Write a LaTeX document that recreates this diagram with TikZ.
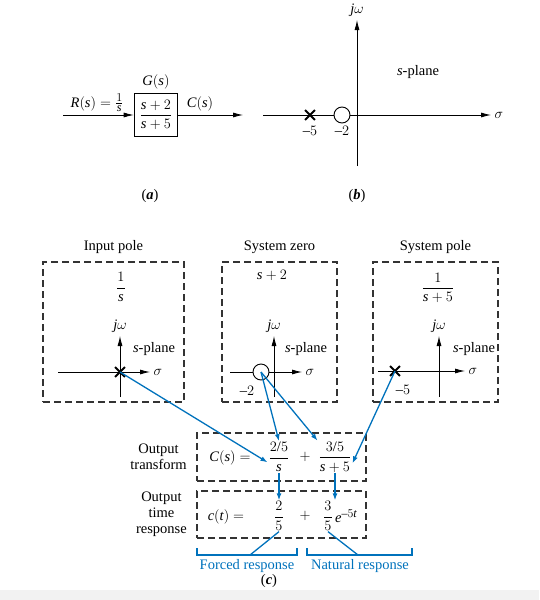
\documentclass[tikz,border=0pt]{standalone}
\usepackage{amsmath}
\usepackage{fontspec}
\setmainfont{Liberation Serif}
\usepackage[italic]{mathastext}
\usetikzlibrary{positioning, shapes.misc, arrows.meta}
\definecolor{blue}{RGB}{0,114,188}
\definecolor{band}{RGB}{242,242,242}
\tikzstyle{block}=[rectangle, draw=black, line width=1.6pt, minimum width=43pt, minimum height=43pt, inner sep=0pt]
\tikzstyle{region}=[rectangle, draw=black!80, line width=1.4pt, dash pattern=on 7pt off 4pt]
\tikzstyle{pole}=[cross out, draw=black, line width=1.8pt, minimum size=8pt, inner sep=0pt]
\tikzstyle{zero}=[circle, draw=black, fill=white, line width=0.9pt, minimum size=16pt, inner sep=0pt]
\tikzstyle{axis}=[-{Latex[length=10pt,width=5pt]}, line width=0.8pt]
\tikzstyle{flow}=[-{Latex[length=7pt,width=5pt]}, blue, line width=1.3pt]
\tikzstyle{brace}=[blue, line width=1.3pt]
\tikzstyle{term}=[inner sep=1pt]

\begin{document}
\begin{tikzpicture}[x=1pt, y=-1pt, font=\fontsize{14.5}{16}\selectfont]
            \useasboundingbox (0,0) rectangle (539,600);
            \fill[band] (0,590) rectangle (539,600);
            %(a) block diagram
            \node[block](G) at (156,115){$\dfrac{s+2}{s+5}$};
            \node[above=0pt of G](Gl){$G(s)$};
            \coordinate (in) at (63,115);
            \coordinate (out) at (243,115);
            \node[anchor=base](R) at (97,107){$R(s)=\frac{1}{s}$};
            \node[anchor=base](C) at (200,107){$C(s)$};
            \draw[axis] (in) to (G);
            \draw[axis] (G) to (out);
            \node(la) at (150,196){(\textbf{\textit{a}})};
            %(b) s-plane
            \coordinate (b-l) at (263,115);
            \coordinate (b-r) at (491,115);
            \coordinate (b-b) at (357,166);
            \coordinate (b-t) at (357,20);
            \draw[axis] (b-l) to (b-r);
            \draw[axis] (b-b) to (b-t);
            \node[above=0pt of b-t](bjw){$j\omega$};
            \node[right=0pt of b-r](bsig){$\sigma$};
            \node[pole](bp) at (310,115){};
            \node[zero](bz) at (342,115){};
            \node(bp5) at (310,131){$-5$};
            \node(bz2) at (342,131){$-2$};
            \node(bpl) at (418,72){$s$-plane};
            \node(lb) at (357,196){(\textbf{\textit{b}})};
            %(c) input pole, system zero, system pole
            \node[region, minimum width=141pt, minimum height=140pt](inbox) at (113.5,332){};
            \node[region, minimum width=115pt, minimum height=140pt](zbox) at (279.5,332){};
            \node[region, minimum width=125pt, minimum height=140pt](pbox) at (435.5,332){};
            \node[above=4pt of inbox]{Input pole};
            \node[above=4pt of zbox]{System zero};
            \node[above=4pt of pbox]{System pole};
            \node(ifn) at (121,287){$\dfrac{1}{s}$};
            \node(zfn) at (272,275){$s+2$};
            \node(pfn) at (438,288){$\dfrac{1}{s+5}$};
            \foreach \b/\l/\r/\v/\h/\sp in {i/58/150/120/372/154, z/230/302/274/372/306, p/378/465/439/371/474}{
                \coordinate (\b-l) at (\l,\h);
                \coordinate (\b-r) at (\r,\h);
                \coordinate (\b-b) at (\v,397);
                \coordinate (\b-t) at (\v,336);
                \draw[axis] (\b-l) to (\b-r);
                \draw[axis] (\b-b) to (\b-t);
                \node[above=0pt of \b-t](\b-jw){$j\omega$};
                \node[right=0pt of \b-r](\b-sig){$\sigma$};
                \node(\b-pl) at (\sp,349){$s$-plane};
            }
            \node[pole](ipole) at (120,372){};
            \node[zero](zero) at (261,372){};
            \node[pole](spole) at (395,371){};
            \node(z2) at (247,391){$-2$};
            \node(p5) at (403,390){$-5$};
            %(c) output transform and time response
            \node[region, minimum width=169pt, minimum height=48pt](tbox) at (281.5,457){};
            \node[region, minimum width=169pt, minimum height=47pt](rbox) at (281.5,514.5){};
            \node[left=6pt of tbox, align=center]{Output\\transform};
            \node[left=6pt of rbox, align=center]{Output\\time\\response};
            \node(cs) at (230,458){$C(s) =$};
            \node[term](t1) at (279,457){$\dfrac{2/5}{s}$};
            \node(pl1) at (305,457){$+$};
            \node[term](t2) at (335,457){$\dfrac{3/5}{s+5}$};
            \node(ct) at (226,517){$c(t) =$};
            \node[term](r1) at (279,516){$\dfrac{2}{5}$};
            \node(pl2) at (305,516){$+$};
            \node[term](r2) at (328,516){$\dfrac{3}{5}$};
            \node[term, right=0pt of r2](r2e){$e^{-5t}$};
            \draw[flow] (ipole.center) to (t1.205);
            \draw[flow] (zero.center) to (t1.north);
            \draw[flow] (zero.center) to (t2.north west);
            \draw[flow] (spole.center) to (t2.340);
            \draw[flow] (t1.south) to (r1.north);
            \draw[flow] (t2.south) to (t2.south |- r2.north);
            %brackets
            \draw[brace] (197,548) -- (197,555) -- (297,555) -- (297,548);
            \draw[brace] (307,548) -- (307,555) -- (412,555) -- (412,548);
            \coordinate (fb) at (250,555);
            \coordinate (nb) at (358,555);
            \draw[brace] (fb) to (r1.south);
            \draw[brace] (nb) to (r2.south);
            \node[text=blue](fr) at (247,566){Forced response};
            \node[text=blue](nr) at (360,566){Natural response};
            \node(lc) at (269,581){(\textbf{\textit{c}})};
        \end{tikzpicture}
\end{document}
